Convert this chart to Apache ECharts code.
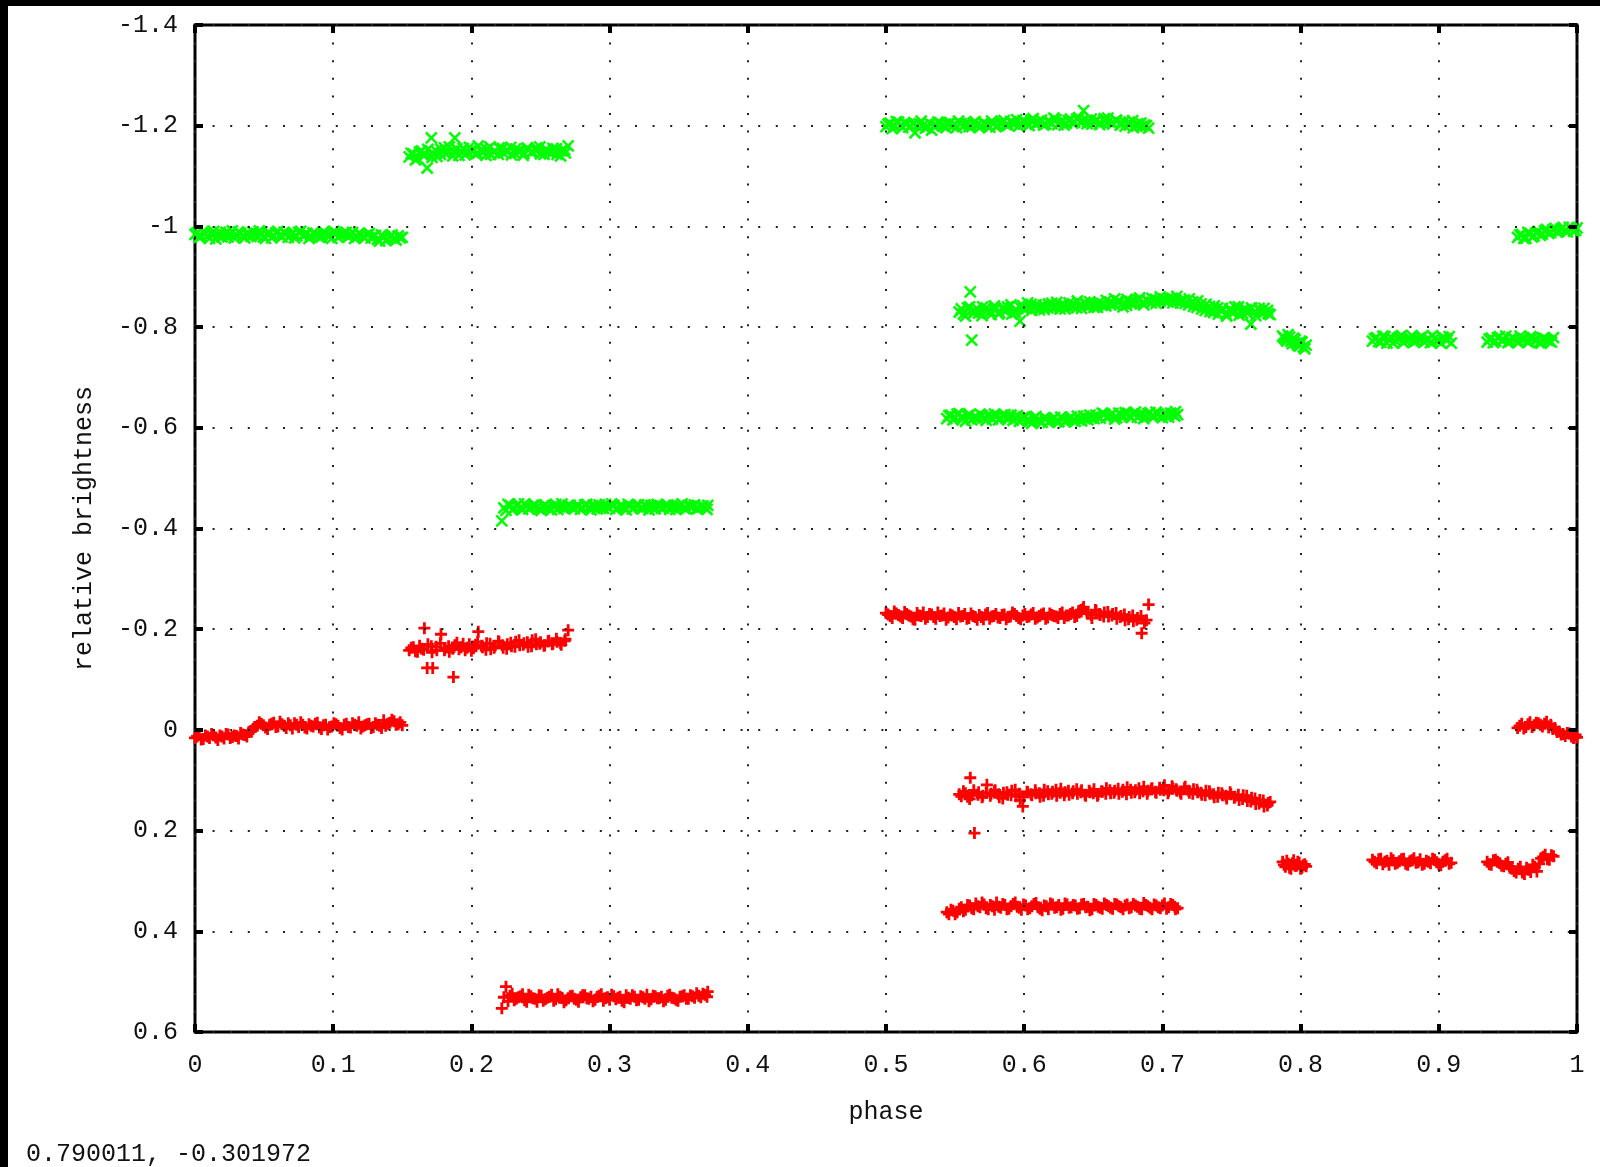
<!DOCTYPE html>
<html>
<head>
<meta charset="utf-8">
<title>relative brightness vs phase</title>
<script src="https://cdn.jsdelivr.net/npm/echarts@6/dist/echarts.min.js"></script>
<style>
  html, body { margin: 0; padding: 0; background: #fff; }
  #chart { width: 1600px; height: 1167px; }
</style>
</head>
<body>
<div id="chart"></div>
<script>
// Tick labels
const xTickLabels = ['0', '0.1', '0.2', '0.3', '0.4', '0.5', '0.6', '0.7', '0.8', '0.9', '1'];
const yTickLabels = ['-1.4', '-1.2', '-1', '-0.8', '-0.6', '-0.4', '-0.2', '0', '0.2', '0.4', '0.6'];
const cursorReadout = '0.790011, -0.301972';

// Observations per night: [phase, comparison (green), target (red)]
const night1 = [
  [0.000,-0.984,0.016],[0.003,-0.978,0.010],[0.006,-0.990,0.018],[0.009,-0.981,0.013],[0.012,-0.986,0.008],
  [0.015,-0.975,0.015],[0.018,-0.988,0.011],[0.021,-0.983,0.017],[0.024,-0.979,0.009],[0.027,-0.991,0.014],
  [0.030,-0.982,0.012],[0.033,-0.986,0.006],[0.036,-0.977,0.010],[0.039,-0.985,0.004],[0.042,-0.989,-0.002],
  [0.045,-0.980,-0.008],[0.048,-0.984,-0.012],[0.051,-0.976,-0.005],[0.054,-0.987,-0.010],[0.057,-0.982,-0.014],
  [0.060,-0.990,-0.007],[0.063,-0.979,-0.011],[0.066,-0.985,-0.004],[0.069,-0.983,-0.009],[0.072,-0.977,-0.013],
  [0.075,-0.988,-0.006],[0.078,-0.981,-0.010],[0.081,-0.986,-0.003],[0.084,-0.980,-0.008],[0.087,-0.984,-0.012],
  [0.090,-0.978,-0.005],[0.093,-0.989,-0.009],[0.096,-0.983,-0.001],[0.099,-0.976,-0.007],[0.102,-0.987,-0.011],
  [0.105,-0.982,-0.004],[0.108,-0.985,-0.010],[0.111,-0.979,-0.006],[0.114,-0.988,-0.013],[0.117,-0.981,-0.008],
  [0.120,-0.984,-0.003],[0.123,-0.977,-0.009],[0.126,-0.986,-0.012],[0.129,-0.980,-0.006],[0.132,-0.974,-0.010],
  [0.135,-0.983,-0.004],[0.138,-0.972,-0.008],[0.141,-0.979,-0.014],[0.144,-0.976,-0.017],[0.147,-0.981,-0.011],
  [0.150,-0.978,-0.009]
];
const night1b = [
  [0.0015,-0.987,0.013],[0.0045,-0.980,0.019],[0.0075,-0.985,0.011],[0.0105,-0.976,0.016],[0.0135,-0.990,0.010],
  [0.0165,-0.982,0.020],[0.0195,-0.979,0.013],[0.0225,-0.988,0.008],[0.0255,-0.984,0.016],[0.0285,-0.977,0.011],
  [0.0315,-0.989,0.017],[0.0345,-0.981,0.009],[0.0375,-0.986,0.013],[0.0405,-0.980,0.002],[0.0435,-0.984,-0.006],
  [0.0465,-0.991,-0.015],[0.0495,-0.979,-0.009],[0.0525,-0.985,-0.002],[0.0555,-0.977,-0.012],[0.0585,-0.987,-0.006],
  [0.0615,-0.982,-0.016],[0.0645,-0.988,-0.008],[0.0675,-0.978,-0.013],[0.0705,-0.986,-0.003],[0.0735,-0.981,-0.010],
  [0.0765,-0.990,-0.015],[0.0795,-0.984,-0.005],[0.0825,-0.976,-0.011],[0.0855,-0.987,-0.007],[0.0885,-0.982,-0.014],
  [0.0915,-0.979,-0.002],[0.0945,-0.986,-0.010],[0.0975,-0.981,-0.006],[0.1005,-0.990,-0.013],[0.1035,-0.978,-0.008],
  [0.1065,-0.984,-0.001],[0.1095,-0.988,-0.012],[0.1125,-0.983,-0.005],[0.1155,-0.976,-0.010],[0.1185,-0.986,-0.015],
  [0.1215,-0.980,-0.007],[0.1245,-0.983,-0.011],[0.1275,-0.977,-0.004],[0.1305,-0.982,-0.013],[0.1335,-0.971,-0.008],
  [0.1365,-0.978,-0.019],[0.1395,-0.975,-0.012],[0.1425,-0.983,-0.020],[0.1455,-0.973,-0.010],[0.1485,-0.977,-0.015]
];
const night2 = [
  [0.155,-1.138,-0.158],[0.158,-1.144,-0.164],[0.161,-1.135,-0.155],[0.164,-1.150,-0.161],[0.166,-1.142,-0.202],
  [0.168,-1.116,-0.123],[0.171,-1.176,-0.166],[0.172,-1.146,-0.123],[0.175,-1.139,-0.158],[0.178,-1.153,-0.190],
  [0.181,-1.145,-0.162],[0.184,-1.158,-0.155],[0.187,-1.149,-0.105],[0.188,-1.176,-0.168],[0.191,-1.141,-0.160],
  [0.194,-1.155,-0.171],[0.197,-1.148,-0.163],[0.200,-1.152,-0.157],[0.203,-1.144,-0.169],[0.205,-1.160,-0.195],
  [0.208,-1.147,-0.164],[0.211,-1.153,-0.172],[0.214,-1.143,-0.160],[0.217,-1.150,-0.167],[0.220,-1.156,-0.174],
  [0.223,-1.146,-0.163],[0.226,-1.151,-0.170],[0.229,-1.142,-0.166],[0.232,-1.154,-0.175],[0.235,-1.148,-0.168],
  [0.238,-1.145,-0.172],[0.241,-1.153,-0.165],[0.244,-1.149,-0.178],[0.247,-1.156,-0.170],[0.250,-1.144,-0.174],
  [0.253,-1.151,-0.168],[0.256,-1.147,-0.177],[0.259,-1.155,-0.171],[0.262,-1.143,-0.175],[0.265,-1.150,-0.169],
  [0.268,-1.146,-0.180],[0.270,-1.160,-0.198]
];
const night2b = [
  [0.1565,-1.145,-0.163],[0.1595,-1.132,-0.156],[0.1625,-1.148,-0.167],[0.1655,-1.140,-0.159],[0.1685,-1.153,-0.170],
  [0.1715,-1.137,-0.154],[0.1745,-1.150,-0.165],[0.1775,-1.143,-0.172],[0.1805,-1.156,-0.158],[0.1835,-1.147,-0.166],
  [0.1865,-1.140,-0.161],[0.1895,-1.154,-0.173],[0.1925,-1.149,-0.164],[0.1955,-1.142,-0.158],[0.1985,-1.157,-0.170],
  [0.2015,-1.150,-0.162],[0.2045,-1.145,-0.175],[0.2075,-1.153,-0.167],[0.2105,-1.141,-0.159],[0.2135,-1.158,-0.171],
  [0.2165,-1.147,-0.163],[0.2195,-1.143,-0.176],[0.2225,-1.155,-0.168],[0.2255,-1.149,-0.161],[0.2285,-1.157,-0.173],
  [0.2315,-1.145,-0.165],[0.2345,-1.152,-0.178],[0.2375,-1.141,-0.169],[0.2405,-1.156,-0.174],[0.2435,-1.146,-0.166],
  [0.2465,-1.151,-0.180],[0.2495,-1.158,-0.171],[0.2525,-1.143,-0.167],[0.2555,-1.150,-0.176],[0.2585,-1.146,-0.170],
  [0.2615,-1.154,-0.181],[0.2645,-1.140,-0.172],[0.2675,-1.152,-0.177]
];
const night3 = [
  [0.222,-0.415,0.553],[0.225,-0.436,0.510],[0.228,-0.446,0.528],[0.231,-0.440,0.537],[0.234,-0.449,0.531],
  [0.237,-0.438,0.525],[0.240,-0.444,0.540],[0.243,-0.441,0.529],[0.246,-0.447,0.534],[0.249,-0.439,0.527],
  [0.252,-0.445,0.538],[0.255,-0.442,0.532],[0.258,-0.437,0.526],[0.261,-0.448,0.535],[0.264,-0.443,0.530],
  [0.267,-0.440,0.541],[0.270,-0.446,0.533],[0.273,-0.441,0.528],[0.276,-0.444,0.536],[0.279,-0.438,0.531],
  [0.282,-0.447,0.527],[0.285,-0.442,0.534],[0.288,-0.445,0.539],[0.291,-0.439,0.530],[0.294,-0.443,0.525],
  [0.297,-0.448,0.533],[0.300,-0.440,0.536],[0.303,-0.446,0.529],[0.306,-0.441,0.532],[0.309,-0.444,0.538],
  [0.312,-0.437,0.527],[0.315,-0.445,0.534],[0.318,-0.442,0.530],[0.321,-0.447,0.536],[0.324,-0.440,0.531],
  [0.327,-0.443,0.526],[0.330,-0.446,0.535],[0.333,-0.439,0.529],[0.336,-0.444,0.533],[0.339,-0.441,0.539],
  [0.342,-0.447,0.528],[0.345,-0.442,0.532],[0.348,-0.438,0.536],[0.351,-0.445,0.530],[0.354,-0.440,0.527],
  [0.357,-0.446,0.534],[0.360,-0.443,0.529],[0.363,-0.439,0.523],[0.366,-0.444,0.531],[0.369,-0.441,0.526],
  [0.371,-0.446,0.520]
];
const night3b = [
  [0.2235,-0.441,0.531],[0.2265,-0.448,0.539],[0.2295,-0.437,0.524],[0.2325,-0.445,0.534],[0.2355,-0.442,0.529],
  [0.2385,-0.449,0.537],[0.2415,-0.439,0.526],[0.2445,-0.446,0.533],[0.2475,-0.443,0.540],[0.2505,-0.436,0.528],
  [0.2535,-0.447,0.535],[0.2565,-0.440,0.530],[0.2595,-0.444,0.538],[0.2625,-0.438,0.525],[0.2655,-0.449,0.532],
  [0.2685,-0.442,0.537],[0.2715,-0.446,0.529],[0.2745,-0.439,0.534],[0.2775,-0.445,0.540],[0.2805,-0.441,0.527],
  [0.2835,-0.448,0.533],[0.2865,-0.437,0.530],[0.2895,-0.444,0.536],[0.2925,-0.447,0.528],[0.2955,-0.440,0.538],
  [0.2985,-0.443,0.531],[0.3015,-0.449,0.526],[0.3045,-0.438,0.535],[0.3075,-0.445,0.530],[0.3105,-0.442,0.541],
  [0.3135,-0.448,0.532],[0.3165,-0.439,0.527],[0.3195,-0.446,0.537],[0.3225,-0.441,0.529],[0.3255,-0.447,0.534],
  [0.3285,-0.437,0.539],[0.3315,-0.444,0.528],[0.3345,-0.448,0.533],[0.3375,-0.440,0.530],[0.3405,-0.445,0.536],
  [0.3435,-0.438,0.526],[0.3465,-0.446,0.533],[0.3495,-0.443,0.538],[0.3525,-0.449,0.529],[0.3555,-0.439,0.534],
  [0.3585,-0.444,0.527],[0.3615,-0.447,0.532],[0.3645,-0.440,0.528],[0.3675,-0.445,0.524],[0.3705,-0.438,0.530]
];
const night4 = [
  [0.500,-1.198,-0.232],[0.503,-1.205,-0.226],[0.506,-1.200,-0.235],[0.509,-1.207,-0.228],[0.512,-1.196,-0.222],
  [0.515,-1.203,-0.230],[0.518,-1.199,-0.225],[0.521,-1.186,-0.219],[0.524,-1.204,-0.227],[0.527,-1.201,-0.233],
  [0.530,-1.197,-0.224],[0.533,-1.191,-0.229],[0.536,-1.202,-0.221],[0.539,-1.206,-0.226],[0.542,-1.199,-0.231],
  [0.545,-1.203,-0.223],[0.548,-1.200,-0.227],[0.551,-1.196,-0.220],[0.554,-1.204,-0.225],[0.557,-1.201,-0.230],
  [0.560,-1.198,-0.222],[0.563,-1.205,-0.226],[0.566,-1.202,-0.219],[0.569,-1.199,-0.224],[0.572,-1.203,-0.229],
  [0.575,-1.197,-0.221],[0.578,-1.204,-0.226],[0.581,-1.200,-0.223],[0.584,-1.206,-0.228],[0.587,-1.202,-0.220],
  [0.590,-1.208,-0.225],[0.593,-1.203,-0.230],[0.596,-1.199,-0.222],[0.599,-1.210,-0.227],[0.602,-1.205,-0.224],
  [0.605,-1.211,-0.229],[0.608,-1.203,-0.221],[0.611,-1.207,-0.226],[0.614,-1.201,-0.231],[0.617,-1.209,-0.223],
  [0.620,-1.204,-0.228],[0.623,-1.212,-0.225],[0.626,-1.206,-0.230],[0.629,-1.201,-0.222],[0.632,-1.210,-0.227],
  [0.635,-1.205,-0.233],[0.638,-1.213,-0.226],[0.641,-1.207,-0.238],[0.643,-1.230,-0.244],[0.646,-1.209,-0.231],
  [0.649,-1.203,-0.222],[0.652,-1.211,-0.236],[0.655,-1.206,-0.228],[0.658,-1.214,-0.233],[0.661,-1.208,-0.225],
  [0.664,-1.203,-0.230],[0.667,-1.210,-0.221],[0.670,-1.205,-0.226],[0.673,-1.199,-0.218],[0.676,-1.207,-0.224],
  [0.679,-1.196,-0.216],[0.682,-1.204,-0.222],[0.685,-1.198,-0.192],[0.687,-1.201,-0.212],[0.690,-1.195,-0.249]
];
const night4b = [
  [0.5015,-1.203,-0.229],[0.5045,-1.194,-0.222],[0.5075,-1.208,-0.231],[0.5105,-1.201,-0.225],[0.5135,-1.206,-0.234],
  [0.5165,-1.197,-0.227],[0.5195,-1.204,-0.220],[0.5225,-1.200,-0.232],[0.5255,-1.209,-0.226],[0.5285,-1.195,-0.221],
  [0.5315,-1.205,-0.230],[0.5345,-1.199,-0.224],[0.5375,-1.207,-0.233],[0.5405,-1.202,-0.227],[0.5435,-1.196,-0.219],
  [0.5465,-1.206,-0.229],[0.5495,-1.203,-0.224],[0.5525,-1.209,-0.232],[0.5555,-1.198,-0.226],[0.5585,-1.205,-0.221],
  [0.5615,-1.201,-0.231],[0.5645,-1.208,-0.224],[0.5675,-1.196,-0.228],[0.5705,-1.206,-0.220],[0.5735,-1.201,-0.232],
  [0.5765,-1.209,-0.225],[0.5795,-1.198,-0.230],[0.5825,-1.204,-0.222],[0.5855,-1.210,-0.229],[0.5885,-1.201,-0.224],
  [0.5915,-1.206,-0.233],[0.5945,-1.212,-0.226],[0.5975,-1.204,-0.220],[0.6005,-1.208,-0.230],[0.6035,-1.200,-0.225],
  [0.6065,-1.214,-0.232],[0.6095,-1.206,-0.223],[0.6125,-1.211,-0.229],[0.6155,-1.203,-0.221],[0.6185,-1.208,-0.231],
  [0.6215,-1.215,-0.226],[0.6245,-1.202,-0.222],[0.6275,-1.209,-0.233],[0.6305,-1.205,-0.227],[0.6335,-1.213,-0.230],
  [0.6365,-1.207,-0.224],[0.6395,-1.216,-0.236],[0.6425,-1.210,-0.240],[0.6455,-1.204,-0.233],[0.6485,-1.213,-0.228],
  [0.6515,-1.208,-0.238],[0.6545,-1.202,-0.230],[0.6575,-1.210,-0.225],[0.6605,-1.215,-0.234],[0.6635,-1.206,-0.227],
  [0.6665,-1.211,-0.232],[0.6695,-1.201,-0.224],[0.6725,-1.208,-0.229],[0.6755,-1.203,-0.220],[0.6785,-1.210,-0.227],
  [0.6815,-1.199,-0.219],[0.6845,-1.205,-0.226],[0.6885,-1.200,-0.218]
];
const night5 = [
  [0.553,-0.830,0.128],[0.556,-0.826,0.122],[0.559,-0.838,0.133],[0.561,-0.870,0.095],[0.562,-0.774,0.130],
  [0.564,-0.833,0.205],[0.567,-0.828,0.124],[0.570,-0.840,0.131],[0.573,-0.832,0.109],[0.576,-0.825,0.127],
  [0.579,-0.837,0.120],[0.582,-0.829,0.134],[0.585,-0.834,0.125],[0.588,-0.840,0.129],[0.591,-0.826,0.121],
  [0.594,-0.835,0.132],[0.597,-0.812,0.140],[0.599,-0.842,0.152],[0.602,-0.837,0.123],[0.605,-0.845,0.128],
  [0.608,-0.839,0.120],[0.611,-0.834,0.126],[0.614,-0.843,0.131],[0.617,-0.838,0.122],[0.620,-0.847,0.127],
  [0.623,-0.841,0.119],[0.626,-0.836,0.125],[0.629,-0.844,0.130],[0.632,-0.840,0.121],[0.635,-0.846,0.126],
  [0.638,-0.838,0.118],[0.641,-0.843,0.124],[0.644,-0.849,0.129],[0.647,-0.841,0.121],[0.650,-0.845,0.126],
  [0.653,-0.839,0.131],[0.656,-0.847,0.122],[0.659,-0.842,0.127],[0.662,-0.850,0.120],[0.665,-0.845,0.125],
  [0.668,-0.852,0.117],[0.671,-0.847,0.123],[0.674,-0.843,0.128],[0.677,-0.851,0.119],[0.680,-0.846,0.124],
  [0.683,-0.854,0.116],[0.686,-0.849,0.122],[0.689,-0.853,0.127],[0.692,-0.848,0.118],[0.695,-0.855,0.123],
  [0.698,-0.851,0.115],[0.701,-0.856,0.120],[0.704,-0.850,0.126],[0.707,-0.857,0.112],[0.710,-0.852,0.118],
  [0.713,-0.848,0.124],[0.716,-0.854,0.116],[0.719,-0.844,0.121],[0.722,-0.850,0.127],[0.725,-0.839,0.119],
  [0.728,-0.846,0.125],[0.731,-0.833,0.130],[0.734,-0.841,0.122],[0.737,-0.829,0.128],[0.740,-0.838,0.133],
  [0.743,-0.832,0.126],[0.746,-0.826,0.131],[0.749,-0.836,0.124],[0.752,-0.830,0.135],[0.755,-0.840,0.129],
  [0.758,-0.827,0.137],[0.761,-0.834,0.131],[0.764,-0.806,0.142],[0.767,-0.831,0.136],[0.770,-0.837,0.146],
  [0.773,-0.828,0.140],[0.776,-0.833,0.150],[0.778,-0.825,0.143]
];
const night5b = [
  [0.5545,-0.836,0.132],[0.5575,-0.822,0.126],[0.5605,-0.840,0.137],[0.5635,-0.828,0.120],[0.5665,-0.835,0.129],
  [0.5695,-0.823,0.134],[0.5725,-0.838,0.125],[0.5755,-0.831,0.131],[0.5785,-0.842,0.122],[0.5815,-0.826,0.128],
  [0.5845,-0.839,0.136],[0.5875,-0.833,0.124],[0.5905,-0.844,0.130],[0.5935,-0.829,0.119],[0.5965,-0.841,0.127],
  [0.5995,-0.836,0.133],[0.6025,-0.848,0.124],[0.6055,-0.833,0.130],[0.6085,-0.844,0.126],[0.6115,-0.840,0.133],
  [0.6145,-0.835,0.119],[0.6175,-0.846,0.128],[0.6205,-0.837,0.123],[0.6235,-0.849,0.131],[0.6265,-0.843,0.117],
  [0.6295,-0.836,0.124],[0.6325,-0.848,0.129],[0.6355,-0.840,0.122],[0.6385,-0.852,0.127],[0.6415,-0.837,0.120],
  [0.6445,-0.845,0.131],[0.6475,-0.850,0.124],[0.6505,-0.839,0.118],[0.6535,-0.848,0.128],[0.6565,-0.843,0.123],
  [0.6595,-0.853,0.116],[0.6625,-0.844,0.126],[0.6655,-0.856,0.121],[0.6685,-0.849,0.127],[0.6715,-0.840,0.119],
  [0.6745,-0.855,0.114],[0.6775,-0.846,0.125],[0.6805,-0.852,0.120],[0.6835,-0.858,0.126],[0.6865,-0.844,0.113],
  [0.6895,-0.851,0.121],[0.6925,-0.857,0.116],[0.6955,-0.847,0.125],[0.6985,-0.860,0.119],[0.7015,-0.852,0.110],
  [0.7045,-0.858,0.122],[0.7075,-0.848,0.116],[0.7105,-0.861,0.121],[0.7135,-0.853,0.127],[0.7165,-0.847,0.113],
  [0.7195,-0.856,0.125],[0.7225,-0.841,0.118],[0.7255,-0.852,0.124],[0.7285,-0.836,0.129],[0.7315,-0.845,0.121],
  [0.7345,-0.831,0.127],[0.7375,-0.842,0.134],[0.7405,-0.826,0.125],[0.7435,-0.837,0.130],[0.7465,-0.822,0.136],
  [0.7495,-0.831,0.128],[0.7525,-0.840,0.133],[0.7555,-0.824,0.139],[0.7585,-0.835,0.130],[0.7615,-0.828,0.141],
  [0.7645,-0.838,0.135],[0.7675,-0.823,0.147],[0.7705,-0.832,0.139],[0.7735,-0.837,0.152],[0.7765,-0.827,0.145]
];
const night6 = [
  [0.544,-0.618,0.362],[0.547,-0.625,0.357],[0.550,-0.621,0.366],[0.553,-0.628,0.355],[0.556,-0.619,0.360],
  [0.559,-0.624,0.348],[0.562,-0.616,0.354],[0.565,-0.622,0.345],[0.568,-0.627,0.352],[0.571,-0.620,0.347],
  [0.574,-0.625,0.356],[0.577,-0.617,0.350],[0.580,-0.623,0.343],[0.583,-0.619,0.353],[0.586,-0.626,0.348],
  [0.589,-0.621,0.355],[0.592,-0.615,0.346],[0.595,-0.624,0.351],[0.598,-0.618,0.357],[0.601,-0.622,0.349],
  [0.604,-0.613,0.354],[0.607,-0.619,0.346],[0.610,-0.616,0.352],[0.613,-0.611,0.358],[0.616,-0.618,0.350],
  [0.619,-0.614,0.345],[0.622,-0.620,0.353],[0.625,-0.612,0.348],[0.628,-0.617,0.355],[0.631,-0.615,0.347],
  [0.634,-0.621,0.352],[0.637,-0.613,0.349],[0.640,-0.618,0.354],[0.643,-0.623,0.346],[0.646,-0.616,0.351],
  [0.649,-0.620,0.356],[0.652,-0.625,0.348],[0.655,-0.619,0.353],[0.658,-0.627,0.345],[0.661,-0.622,0.350],
  [0.664,-0.628,0.355],[0.667,-0.620,0.347],[0.670,-0.626,0.352],[0.673,-0.630,0.349],[0.676,-0.623,0.354],
  [0.679,-0.628,0.346],[0.682,-0.621,0.351],[0.685,-0.627,0.356],[0.688,-0.624,0.348],[0.691,-0.630,0.353],
  [0.694,-0.622,0.347],[0.697,-0.627,0.352],[0.700,-0.620,0.349],[0.703,-0.625,0.355],[0.706,-0.629,0.346],
  [0.709,-0.623,0.351],[0.711,-0.626,0.354]
];
const night6b = [
  [0.5455,-0.624,0.366],[0.5485,-0.616,0.359],[0.5515,-0.627,0.362],[0.5545,-0.621,0.352],[0.5575,-0.613,0.357],
  [0.5605,-0.626,0.349],[0.5635,-0.620,0.356],[0.5665,-0.618,0.350],[0.5695,-0.624,0.343],[0.5725,-0.615,0.354],
  [0.5755,-0.622,0.348],[0.5785,-0.627,0.357],[0.5815,-0.616,0.351],[0.5845,-0.623,0.346],[0.5875,-0.618,0.356],
  [0.5905,-0.625,0.350],[0.5935,-0.620,0.343],[0.5965,-0.613,0.353],[0.5995,-0.621,0.347],[0.6025,-0.616,0.356],
  [0.6055,-0.609,0.350],[0.6085,-0.622,0.344],[0.6115,-0.614,0.355],[0.6145,-0.619,0.349],[0.6175,-0.611,0.356],
  [0.6205,-0.617,0.347],[0.6235,-0.614,0.352],[0.6265,-0.621,0.357],[0.6295,-0.612,0.345],[0.6325,-0.618,0.353],
  [0.6355,-0.616,0.348],[0.6385,-0.623,0.355],[0.6415,-0.614,0.347],[0.6445,-0.619,0.352],[0.6475,-0.625,0.358],
  [0.6505,-0.618,0.346],[0.6535,-0.622,0.351],[0.6565,-0.629,0.355],[0.6595,-0.620,0.348],[0.6625,-0.625,0.353],
  [0.6655,-0.617,0.346],[0.6685,-0.629,0.350],[0.6715,-0.623,0.356],[0.6745,-0.627,0.347],[0.6775,-0.620,0.352],
  [0.6805,-0.631,0.349],[0.6835,-0.624,0.355],[0.6865,-0.618,0.344],[0.6895,-0.628,0.350],[0.6925,-0.625,0.356],
  [0.6955,-0.631,0.349],[0.6985,-0.623,0.354],[0.7015,-0.628,0.345],[0.7045,-0.621,0.352],[0.7075,-0.627,0.348],
  [0.7095,-0.632,0.356]
];
const night7 = [
  [0.787,-0.782,0.262],[0.788,-0.779,0.268],[0.789,-0.776,0.272],[0.790,-0.772,0.260],[0.791,-0.785,0.266],
  [0.792,-0.780,0.274],[0.793,-0.772,0.276],[0.794,-0.767,0.265],[0.795,-0.778,0.259],[0.796,-0.775,0.270],
  [0.797,-0.768,0.270],[0.798,-0.764,0.262],[0.799,-0.762,0.264],[0.800,-0.772,0.276],[0.801,-0.770,0.274],
  [0.802,-0.760,0.269],[0.803,-0.757,0.267],[0.804,-0.764,0.271]
];
const night8 = [
  [0.852,-0.772,0.258],[0.855,-0.779,0.265],[0.858,-0.770,0.256],[0.861,-0.781,0.262],[0.864,-0.775,0.268],
  [0.867,-0.768,0.259],[0.870,-0.777,0.264],[0.873,-0.783,0.257],[0.876,-0.773,0.266],[0.879,-0.778,0.261],
  [0.882,-0.770,0.255],[0.885,-0.776,0.263],[0.888,-0.781,0.268],[0.891,-0.774,0.260],[0.894,-0.769,0.265],
  [0.897,-0.778,0.258],[0.900,-0.772,0.267],[0.903,-0.780,0.262],[0.906,-0.774,0.256],[0.909,-0.768,0.264],
  [0.8535,-0.777,0.262],[0.8565,-0.771,0.257],[0.8595,-0.782,0.267],[0.8625,-0.768,0.260],[0.8655,-0.779,0.255],
  [0.8685,-0.773,0.266],[0.8715,-0.780,0.261],[0.8745,-0.769,0.256],[0.8775,-0.776,0.268],[0.8805,-0.783,0.259],
  [0.8835,-0.772,0.264],[0.8865,-0.779,0.257],[0.8895,-0.770,0.266],[0.8925,-0.777,0.262],[0.8955,-0.783,0.256],
  [0.8985,-0.774,0.263],[0.9015,-0.768,0.269],[0.9045,-0.777,0.259],[0.9075,-0.781,0.266]
];
const night9 = [
  [0.935,-0.770,0.262],[0.938,-0.778,0.268],[0.941,-0.772,0.258],[0.944,-0.781,0.265],[0.947,-0.775,0.271],
  [0.950,-0.769,0.263],[0.953,-0.779,0.276],[0.956,-0.773,0.283],[0.959,-0.782,0.272],[0.962,-0.776,0.286],
  [0.965,-0.770,0.278],[0.968,-0.779,0.268],[0.971,-0.774,0.281],[0.974,-0.768,0.255],[0.977,-0.777,0.248],
  [0.980,-0.772,0.258],[0.983,-0.779,0.251],
  [0.9365,-0.776,0.267],[0.9395,-0.769,0.259],[0.9425,-0.779,0.262],[0.9455,-0.773,0.270],[0.9485,-0.782,0.266],
  [0.9515,-0.771,0.274],[0.9545,-0.777,0.280],[0.9575,-0.769,0.276],[0.9605,-0.778,0.283],[0.9635,-0.772,0.274],
  [0.9665,-0.781,0.282],[0.9695,-0.775,0.272],[0.9725,-0.769,0.266],[0.9755,-0.778,0.252],[0.9785,-0.774,0.257],
  [0.9815,-0.770,0.249]
];
const night10 = [
  [0.957,-0.978,-0.004],[0.960,-0.984,-0.012],[0.963,-0.976,-0.006],[0.966,-0.986,-0.015],[0.969,-0.981,-0.009],
  [0.972,-0.990,-0.013],[0.975,-0.985,-0.007],[0.978,-0.994,-0.016],[0.981,-0.988,-0.010],[0.984,-0.996,-0.004],
  [0.987,-0.991,0.003],[0.990,-0.998,0.008],[0.993,-0.989,0.006],[0.996,-0.995,0.013],[0.999,-0.992,0.010],
  [1.000,-0.997,0.015],
  [0.9585,-0.983,-0.008],[0.9615,-0.976,-0.003],[0.9645,-0.988,-0.011],[0.9675,-0.979,-0.006],[0.9705,-0.987,-0.014],
  [0.9735,-0.982,-0.010],[0.9765,-0.991,-0.012],[0.9795,-0.986,-0.005],[0.9825,-0.993,-0.002],[0.9855,-0.989,0.004],
  [0.9885,-0.995,0.009],[0.9915,-0.992,0.012],[0.9945,-0.998,0.007],[0.9975,-0.990,0.016]
];

const nights = [night1, night1b, night2, night2b, night3, night3b, night4, night4b,
                night5, night5b, night6, night6b, night7, night8, night9, night10];
const comparisonPoints = [];
const targetPoints = [];
nights.forEach(function (night) {
  night.forEach(function (row) {
    comparisonPoints.push([row[0], row[1]]);
    targetPoints.push([row[0], row[2]]);
  });
});

const FONT = '"Liberation Mono", "DejaVu Sans Mono", monospace';
const CROSS = 'path://M0,0L10,10M10,0L0,10';
const PLUS = 'path://M0,5L10,5M5,0L5,10';

const tickStyle = { show: true, inside: true, length: 8, lineStyle: { color: '#000', width: 4 } };
const gridDots = { show: true, lineStyle: { color: '#222', width: 2, type: [2, 15.6] } };
const hiddenLine = { show: false, onZero: false };

const chart = echarts.init(document.getElementById('chart'), null, { renderer: 'canvas' });
chart.setOption({
  animation: false,
  backgroundColor: '#ffffff',
  grid: {
    left: 195, top: 25, width: 1382, height: 1007,
    show: true, borderColor: '#000', borderWidth: 3, backgroundColor: 'transparent'
  },
  xAxis: [
    {
      type: 'value', min: 0, max: 1, interval: 0.1, position: 'bottom', z: 3,
      axisLine: hiddenLine, axisTick: tickStyle, splitLine: gridDots,
      axisLabel: {
        margin: 21, color: '#111', fontFamily: FONT, fontSize: 25,
        formatter: function (v) { return xTickLabels[Math.round(v * 10)]; }
      },
      name: 'phase', nameLocation: 'middle', nameGap: 68,
      nameTextStyle: { color: '#111', fontFamily: FONT, fontSize: 25 }
    },
    {
      type: 'value', min: 0, max: 1, interval: 0.1, position: 'top', z: 3,
      axisLine: hiddenLine, axisTick: tickStyle, axisLabel: { show: false }, splitLine: { show: false }
    }
  ],
  yAxis: [
    {
      type: 'value', inverse: true, min: -1.4, max: 0.6, interval: 0.2, position: 'left', z: 3,
      axisLine: hiddenLine, axisTick: tickStyle, splitLine: gridDots,
      axisLabel: {
        margin: 17, color: '#111', fontFamily: FONT, fontSize: 25,
        formatter: function (v) { return yTickLabels[Math.round((v + 1.4) / 0.2)]; }
      },
      name: 'relative brightness', nameLocation: 'middle', nameGap: 98,
      nameTextStyle: { color: '#111', fontFamily: FONT, fontSize: 25 }
    },
    {
      type: 'value', inverse: true, min: -1.4, max: 0.6, interval: 0.2, position: 'right', z: 3,
      axisLine: hiddenLine, axisTick: tickStyle, axisLabel: { show: false }, splitLine: { show: false }
    }
  ],
  series: [
    {
      name: 'comparison', type: 'scatter', xAxisIndex: 0, yAxisIndex: 0,
      symbol: CROSS, symbolSize: 11, data: comparisonPoints,
      itemStyle: { color: 'rgba(0,0,0,0)', borderColor: '#00ff00', borderWidth: 2.5, opacity: 1 },
      emphasis: { disabled: true }
    },
    {
      name: 'target', type: 'scatter', xAxisIndex: 0, yAxisIndex: 0,
      symbol: PLUS, symbolSize: 12, data: targetPoints,
      itemStyle: { color: 'rgba(0,0,0,0)', borderColor: '#ff0000', borderWidth: 2.8, opacity: 1 },
      emphasis: { disabled: true }
    }
  ],
  graphic: [
    { type: 'rect', left: 0, top: 0, shape: { width: 8, height: 1167 }, style: { fill: '#000' } },
    { type: 'rect', left: 0, top: 0, shape: { width: 1600, height: 6 }, style: { fill: '#000' } },
    {
      type: 'text', left: 26, top: 1142,
      style: { text: cursorReadout, fill: '#111', font: '25px ' + FONT }
    }
  ]
});
</script>
</body>
</html>
